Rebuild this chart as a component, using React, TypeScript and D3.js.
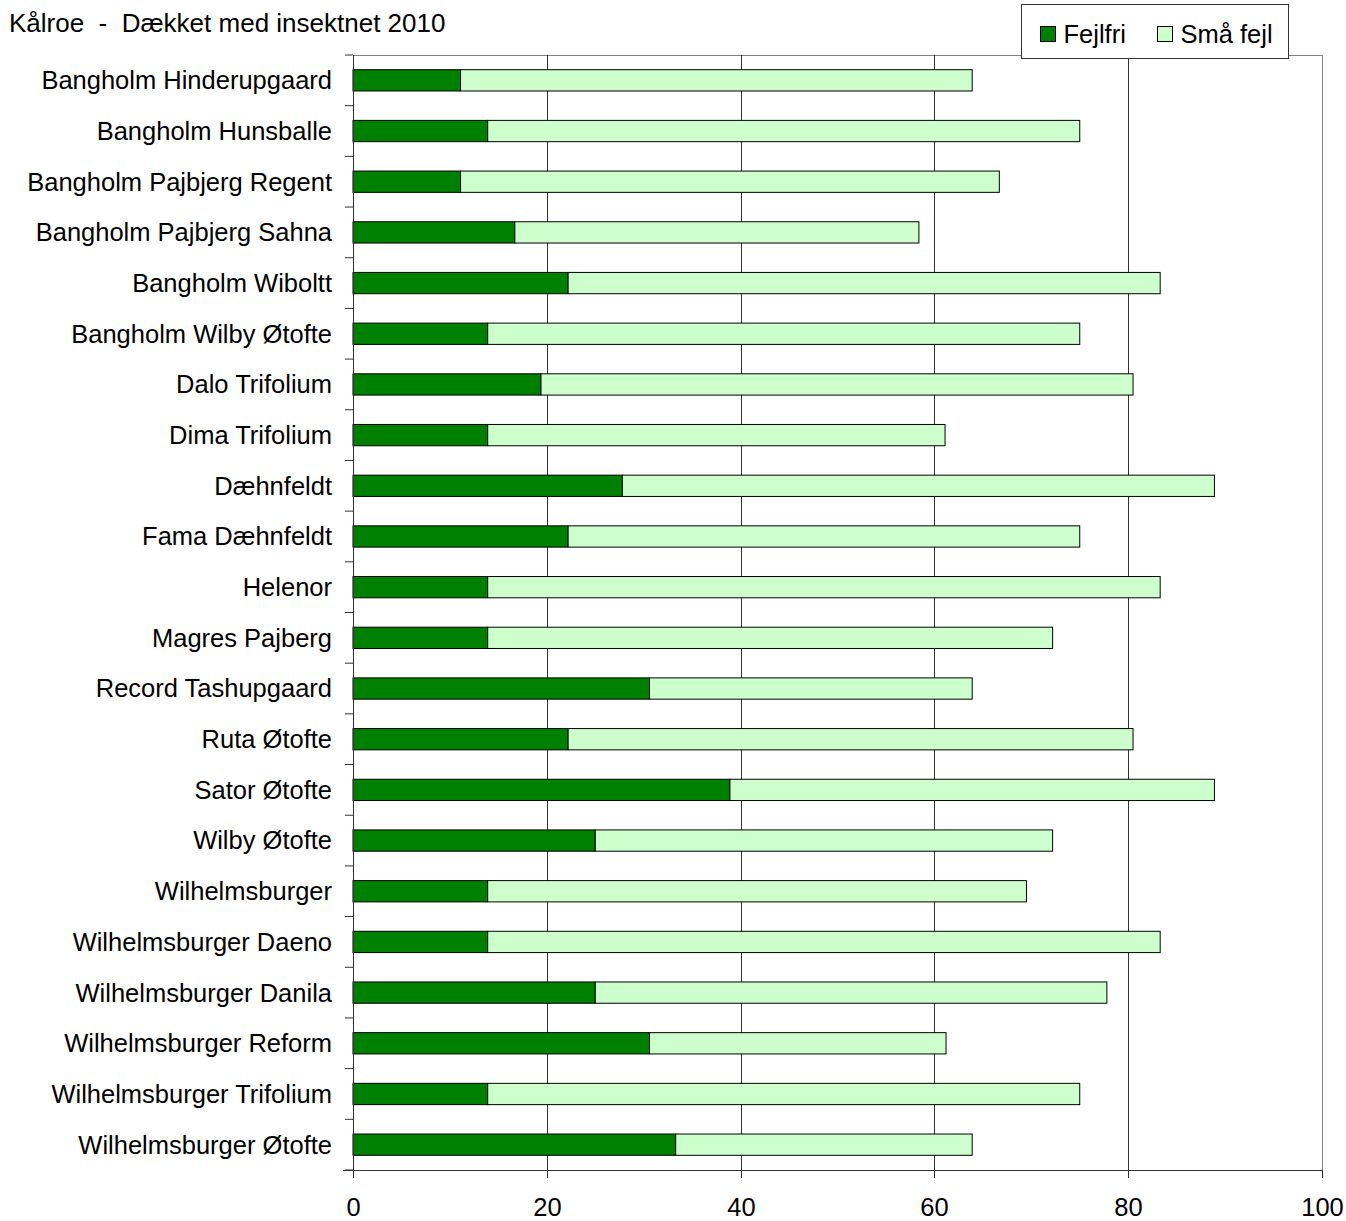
import React from "react";
import * as d3 from "d3";

const width = 1346;
const height = 1221;

const categories = [
  "Bangholm Hinderupgaard",
  "Bangholm Hunsballe",
  "Bangholm Pajbjerg Regent",
  "Bangholm Pajbjerg Sahna",
  "Bangholm Wiboltt",
  "Bangholm Wilby Øtofte",
  "Dalo Trifolium",
  "Dima Trifolium",
  "Dæhnfeldt",
  "Fama Dæhnfeldt",
  "Helenor",
  "Magres Pajberg",
  "Record Tashupgaard",
  "Ruta Øtofte",
  "Sator Øtofte",
  "Wilby Øtofte",
  "Wilhelmsburger",
  "Wilhelmsburger Daeno",
  "Wilhelmsburger Danila",
  "Wilhelmsburger Reform",
  "Wilhelmsburger Trifolium",
  "Wilhelmsburger Øtofte",
];

const fejlfri = [
  11.1, 13.9, 11.1, 16.7, 22.2, 13.9, 19.4, 13.9, 27.8, 22.2, 13.9,
  13.9, 30.6, 22.2, 38.9, 25.0, 13.9, 13.9, 25.0, 30.6, 13.9, 33.3,
];

const smaaFejl = [
  52.8, 61.1, 55.6, 41.7, 61.1, 61.1, 61.1, 47.2, 61.1, 52.8, 69.4,
  58.3, 33.3, 58.3, 50.0, 47.2, 55.6, 69.4, 52.8, 30.6, 61.1, 30.6,
];

const seriesNames = ["Fejlfri", "Små fejl"];
const seriesColors = ["#008000", "#CCFFCC"];
const xTicks = [0, 20, 40, 60, 80, 100];

const margin = { top: 55, right: 24, bottom: 51, left: 353 };
const font = "Arial, 'Liberation Sans', sans-serif";
const fs = 25.5;

export default function App() {
  const innerW = width - margin.left - margin.right;
  const innerH = height - margin.top - margin.bottom;

  const x = d3.scaleLinear().domain([0, 100]).range([0, innerW]);
  const y = d3
    .scaleBand<string>()
    .domain(categories)
    .range([0, innerH])
    .paddingInner(0.58)
    .paddingOuter(0.29);

  const rows = categories.map((c, i) => ({
    name: c,
    Fejlfri: fejlfri[i],
    "Små fejl": smaaFejl[i],
  }));
  const stacked = d3.stack<any>().keys(seriesNames)(rows);

  // band boundaries for the category ticks
  const step = innerH / categories.length;
  const boundaries = d3.range(categories.length + 1).map((i) => i * step);

  return (
    <svg
      width={width}
      height={height}
      style={{ display: "block", position: "absolute", left: 0, top: 0, background: "#fff" }}
      fontFamily={font}
    >
      <text x={9} y={32} fontSize={26} fill="#000" style={{ whiteSpace: "pre" }}>
        {"Kålroe  -  Dækket med insektnet 2010"}
      </text>
      <g transform={`translate(${margin.left},${margin.top})`}>
        {/* plot border top & right */}
        <line x1={0} x2={innerW} y1={0.5} y2={0.5} stroke="#808080" />
        <line x1={innerW + 0.5} x2={innerW + 0.5} y1={0} y2={innerH} stroke="#808080" />
        {xTicks.slice(1, -1).map((t) => (
          <line
            key={t}
            x1={Math.round(x(t)) + 0.5}
            x2={Math.round(x(t)) + 0.5}
            y1={0}
            y2={innerH}
            stroke="#333"
          />
        ))}
        {stacked.map((s, si) =>
          s.map((d, i) => (
            <rect
              key={si + "-" + i}
              x={x(d[0])}
              y={y(categories[i])!}
              width={x(d[1]) - x(d[0])}
              height={y.bandwidth()}
              fill={seriesColors[si]}
              stroke="#000"
              strokeWidth={1}
            />
          ))
        )}
        {/* left axis */}
        <line x1={0.5} x2={0.5} y1={0} y2={innerH} stroke="#333" />
        {boundaries.map((b, i) => (
          <line key={i} x1={-8} x2={0} y1={b} y2={b} stroke="#333" />
        ))}
        {categories.map((c) => (
          <text
            key={c}
            x={-21}
            y={y(c)! + y.bandwidth() / 2}
            dy="0.35em"
            textAnchor="end"
            fontSize={fs}
            fill="#000"
          >
            {c}
          </text>
        ))}
        {/* bottom axis */}
        <line x1={-10} x2={innerW} y1={innerH + 0.5} y2={innerH + 0.5} stroke="#333" />
        {xTicks.map((t) => (
          <g key={t} transform={`translate(${Math.round(x(t)) + 0.5},${innerH})`}>
            <line y1={0} y2={8} stroke="#333" />
            <text y={46} textAnchor="middle" fontSize={fs} fill="#000">
              {t}
            </text>
          </g>
        ))}
      </g>
      {/* legend */}
      <g transform="translate(1021.5,4.5)">
        <rect width={267} height={54} fill="#fff" stroke="#333" />
        {seriesNames.map((n, i) => (
          <g key={n} transform={`translate(${19 + i * 117},0)`}>
            <rect x={0} y={22} width={15} height={15} fill={seriesColors[i]} stroke="#000" />
            <text x={23} y={38} fontSize={fs} fill="#000">
              {n}
            </text>
          </g>
        ))}
      </g>
    </svg>
  );
}
